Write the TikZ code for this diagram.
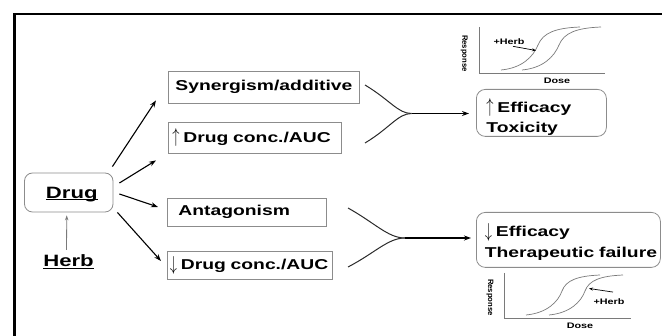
\documentclass[tikz,border=0pt]{standalone}
\usepackage{fontspec}
\setmainfont[FakeStretch=1.35]{Liberation Sans}
\newfontfamily\respfont{Liberation Sans}
\usetikzlibrary{arrows.meta}
\definecolor{boxgray}{HTML}{8C8C8C}
\definecolor{curvegray}{HTML}{7A7A7A}
\definecolor{forkgray}{HTML}{2A2A2A}
\newcommand{\mainsz}{\fontsize{14.3}{20.5}\selectfont\bfseries}
\newcommand{\bigsz}{\fontsize{16.4}{18}\selectfont\bfseries}
\newcommand{\smallsz}{\fontsize{8}{9}\selectfont\bfseries}
\newcommand{\uword}[1]{\setbox0\hbox{#1}\rlap{\rule[-2pt]{\wd0}{1.3pt}}\box0}
\newcommand{\uparr}{\makebox[11pt][l]{\scalebox{1}[1.4]{$\uparrow$}}}
\newcommand{\dnarr}{\makebox[11pt][l]{\raisebox{-1pt}{\scalebox{1}[1.4]{$\downarrow$}}}}

\begin{document}
\begin{tikzpicture}[x=1pt, y=-1pt, >={Stealth[length=7pt,width=5pt]},
  txtbox/.style={draw=boxgray, line width=0.8pt, anchor=west, align=left, inner ysep=0pt, font=\mainsz},
  effbox/.style={draw=boxgray, line width=0.8pt, rounded corners=9pt, anchor=north west, align=left, inner ysep=0pt, font=\mainsz},
  conn/.style={->, line width=1.1pt},
  fork/.style={draw=forkgray, line width=1pt},
  graphline/.style={draw=curvegray, line width=0.7pt},
  small/.style={font=\smallsz, inner sep=0pt}]
  \useasboundingbox (0,0) rectangle (662,336);
  % frame
  \draw[line width=2.7pt] (14.7,345) -- (14.7,14) -- (670,14);

  % drug and herb
  \node[draw=boxgray, line width=0.8pt, rounded corners=8pt, minimum width=88.5pt, minimum height=39pt,
        text depth=0pt, font=\bigsz] (drug) at (68.75,192.5) {\hspace*{6pt}\uword{Drug}};
  \node[font=\bigsz, inner sep=0pt, anchor=base] (herb) at (68.5,267) {\uword{Herb}};
  \draw[->, >={Stealth[length=5pt,width=3.5pt]}, draw=curvegray, line width=0.8pt, shorten <=5pt, shorten >=3pt]
    ([xshift=-2pt]herb.north) -- ([xshift=-2pt]drug.south);

  % middle boxes
  \node[txtbox, inner xsep=7pt, text width=177pt, minimum height=32pt] (syn) at (168,87) {\mbox{Synergism/additive}};
  \node[txtbox, inner xsep=4pt, text width=165pt, minimum height=31pt] (upc) at (168,137.5) {\mbox{\uparr Drug conc./AUC}};
  \node[txtbox, inner xsep=11pt, text width=137pt, minimum height=28pt] (ant) at (167,212) {Antagonism};
  \node[txtbox, inner xsep=2.5pt, text width=160pt, minimum height=28pt] (dnc) at (167,265) {\mbox{\dnarr Drug conc./AUC}};

  \draw[conn] ([shift={(-1,-6)}]drug.north east) -- ([shift={(-12,-3)}]syn.south west);
  \draw[conn] ([shift={(6,-9.5)}]drug.east) -- ([shift={(-12,7)}]upc.south west);
  \draw[conn] ([shift={(6,1.5)}]drug.east) -- ([shift={(-9,-5)}]ant.west);
  \draw[conn] ([shift={(4,0)}]drug.south east) -- ([shift={(-6,-4)}]dnc.west);

  % outcome boxes
  \node[effbox, inner xsep=10pt, text width=110pt, minimum height=47pt] (eff1) at (476,89)
    {\rule{0pt}{22pt}\mbox{\uparr Efficacy}\\\mbox{Toxicity}};
  \node[effbox, inner xsep=6.5pt, text width=171pt, minimum height=55pt] (eff2) at (476,212)
    {\rule{0pt}{17pt}\hspace*{2pt}\mbox{\dnarr Efficacy}\\\hspace*{2pt}\mbox{Therapeutic failure}};

  % forks
  \coordinate (fk1a) at (365,85);
  \coordinate (fk1b) at (365,143);
  \coordinate (fk1) at (411.5,113.5);
  \draw[fork] (fk1a) .. controls (390,100) and (398,113.5) .. (fk1);
  \draw[fork] (fk1b) .. controls (390,128) and (398,113.5) .. (fk1);
  \draw[conn, shorten >=7pt] (fk1) -- (fk1 -| eff1.west);

  \coordinate (fk2a) at (348,208);
  \coordinate (fk2b) at (348,267);
  \coordinate (fk2) at (405,238);
  \draw[fork] (fk2a) .. controls (375,223) and (388,238) .. (fk2);
  \draw[fork] (fk2b) .. controls (375,253) and (388,238) .. (fk2);
  \draw[conn, shorten >=5pt] (fk2) -- (fk2 -| eff2.west);

  % dose-response, top
  \draw[graphline] (479,27) -- (479,73) -- (605,73);
  \foreach \dx in {0,21}
    \draw[graphline, shift={(\dx,0)}] (501,70) .. controls (522,68) and (533,57) .. (538,45)
      .. controls (543,33) and (555,28) .. (580,27);
  \node[small] (herbA) at (509,41.7) {+Herb};
  \coordinate (hitA) at (536,50.5);
  \draw[->, >={Stealth[length=4pt,width=3pt]}, line width=0.7pt] ([shift={(4,1.5)}]herbA.south) -- (hitA);
  \node[small] (doseA) at (557,81) {Dose};
  \node[font=\respfont\fontsize{7.7}{8}\selectfont\bfseries, rotate=-90, inner sep=0pt] (respA) at (464.3,53.5) {Response};

  % dose-response, bottom
  \draw[graphline] (504.5,273) -- (504.5,318) -- (631,318);
  \foreach \dx in {0,23}
    \draw[graphline, shift={(\dx,0)}] (526,315) .. controls (547,313) and (558,302) .. (562,291)
      .. controls (566,280) and (578,276) .. (600,275);
  \node[small] (herbB) at (609,301.7) {+Herb};
  \coordinate (hitB) at (589,288.5);
  \draw[->, >={Stealth[length=4pt,width=3pt]}, line width=0.7pt] ([shift={(4,-6.5)}]herbB.north) -- (hitB);
  \node[small] (doseB) at (580,325.5) {Dose};
  \node[font=\respfont\fontsize{7.7}{8}\selectfont\bfseries, rotate=-90, inner sep=0pt] (respB) at (490,297.5) {Response};
\end{tikzpicture}
\end{document}
